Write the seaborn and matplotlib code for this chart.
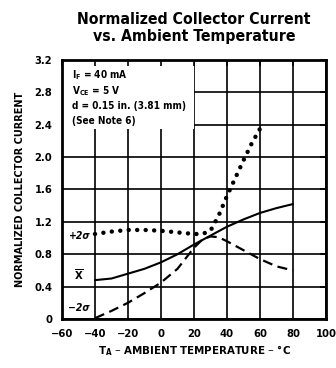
import matplotlib
matplotlib.use("Agg")
import matplotlib.pyplot as plt
import seaborn as sns
import pandas as pd
from matplotlib.patches import Rectangle

# ---- data ----
temp_mean = [-40, -30, -20, -10, 0, 10, 20, 30, 40, 50, 60, 70, 80]
mean_vals = [0.48, 0.50, 0.56, 0.62, 0.70, 0.80, 0.92, 1.03, 1.14, 1.23, 1.31, 1.37, 1.42]

temp_minus = [-40, -30, -20, -10, 0, 10, 20, 25, 30, 35, 40, 50, 60, 70, 80]
minus_vals = [0.01, 0.10, 0.20, 0.32, 0.45, 0.62, 0.88, 0.98, 1.02, 1.01, 0.96, 0.85, 0.74, 0.65, 0.60]

temp_plus = [-40, -30, -20, -10, 0, 10, 20, 25, 30, 35, 40, 45, 50, 55, 60]
plus_vals = [1.05, 1.08, 1.10, 1.10, 1.09, 1.07, 1.05, 1.05, 1.09, 1.28, 1.52, 1.74, 1.96, 2.17, 2.35]

x_ticks = [-60, -40, -20, 0, 20, 40, 60, 80, 100]
x_tick_labels = ["\u221260", "\u221240", "\u221220", "0", "20", "40", "60", "80", "100"]
y_ticks = [0, 0.4, 0.8, 1.2, 1.6, 2.0, 2.4, 2.8, 3.2]
y_tick_labels = ["0", "0.4", "0.8", "1.2", "1.6", "2.0", "2.4", "2.8", "3.2"]

conditions = [r"I$_\mathregular{F}$ = 40 mA",
              r"V$_\mathregular{CE}$ = 5 V",
              "d = 0.15 in. (3.81 mm)",
              "(See Note 6)"]

sns.set_style("white")
plt.rcParams["font.family"] = ["DejaVu Sans"]
plt.rcParams["font.stretch"] = "condensed"
plt.rcParams["font.weight"] = "bold"
plt.rcParams["mathtext.default"] = "regular"
plt.rcParams["text.color"] = "black"
plt.rcParams["axes.labelcolor"] = "black"
plt.rcParams["xtick.color"] = "black"
plt.rcParams["ytick.color"] = "black"

fig = plt.figure(figsize=(3.36, 3.68), dpi=100)
ax = fig.add_axes([0.1845, 0.1332, 0.7857, 0.7038])

df_mean = pd.DataFrame({"T": temp_mean, "v": mean_vals})
df_minus = pd.DataFrame({"T": temp_minus, "v": minus_vals})
df_plus = pd.DataFrame({"T": temp_plus, "v": plus_vals})

sns.lineplot(data=df_mean, x="T", y="v", ax=ax, color="black", lw=1.5, zorder=3)
sns.lineplot(data=df_minus, x="T", y="v", ax=ax, color="black", lw=1.6,
             linestyle=(0, (4.5, 2.5)), zorder=3)
l = sns.lineplot(data=df_plus, x="T", y="v", ax=ax, color="black", lw=3.2,
                 linestyle=(0, (0.01, 1.9)), zorder=3)
l.lines[-1].set_dash_capstyle("round")

ax.set_xlim(-60, 100)
ax.set_ylim(0, 3.2)
ax.set_xticks(x_ticks)
ax.set_xticklabels(x_tick_labels)
ax.set_yticks(y_ticks)
ax.set_yticklabels(y_tick_labels)
ax.grid(True, color="black", lw=1.2)
ax.set_axisbelow(True)
for s in ax.spines.values():
    s.set_color("black")
    s.set_linewidth(2.0)
ax.tick_params(axis="both", labelsize=8, length=0, pad=7)
for t in ax.get_xticklabels() + ax.get_yticklabels():
    t.set_fontweight("bold")
    t.set_fontstretch("condensed")

# white box behind the conditions text
ax.add_patch(Rectangle((-60, 2.35), 80, 0.85, facecolor="white", edgecolor="none", zorder=1))

# overlay axes for inward tick marks
ax2 = fig.add_axes(ax.get_position(), sharex=ax, sharey=ax)
ax2.patch.set_visible(False)
for s in ax2.spines.values():
    s.set_visible(False)
ax2.tick_params(axis="both", direction="in", length=4, width=1.2, labelleft=False,
                labelbottom=False, top=True, right=True, color="black")
ax2.grid(False)

for i, txt in enumerate(conditions):
    ax.text(-54, 3.01 - i * 0.19, txt, fontsize=7.2, fontweight="bold",
            fontstretch="condensed", va="center", ha="left", zorder=4)

ax.text(-50, 1.02, "+2\u03c3", fontsize=7.5, fontstyle="italic", fontweight="bold", ha="center", va="center")
ax.text(-50, 0.55, r"$\overline{\mathbf{X}}$", fontsize=8, ha="center", va="center")
ax.text(-50, 0.14, "\u22122\u03c3", fontsize=7.5, fontstyle="italic", fontweight="bold", ha="center", va="center")

ax.set_xlabel("T$_\\mathregular{A}$ \u2013 AMBIENT TEMPERATURE \u2013 \u00b0C",
              fontsize=8.2, fontweight="bold", labelpad=3)
ax.set_ylabel("NORMALIZED COLLECTOR CURRENT", fontsize=7, fontweight="bold",
              fontstretch="normal", labelpad=7)
ax.set_title("Normalized Collector Current\nvs. Ambient Temperature", fontsize=11.3,
             fontweight="bold", pad=14, linespacing=1.15)

fig.savefig("out.png", dpi=100)
